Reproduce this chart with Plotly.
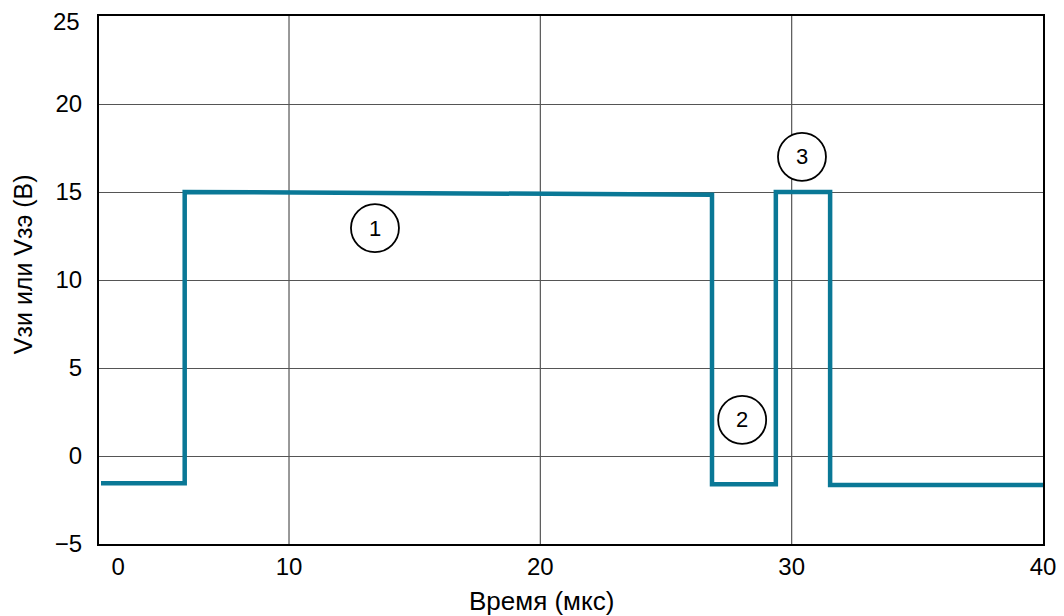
import plotly.graph_objects as go

# Data
time_us = [2.52, 5.85, 5.85, 26.83, 26.83, 29.37, 29.37, 31.53, 31.53, 40.0]
voltage = [-1.55, -1.55, 15.0, 14.85, -1.6, -1.6, 15.0, 15.0, -1.65, -1.65]

x_tick_vals = [3.2, 10, 20, 30, 40]
x_tick_text = ["0", "10", "20", "30", "40"]
x_grid = [10, 20, 30]
y_tick_vals = [-5, 0, 5, 10, 15, 20, 25]
y_tick_text = ["\u22125", "0", "5", "10", "15", "20", "25"]

marker_labels = ["1", "2", "3"]
marker_x = [13.42, 28.03, 30.41]
marker_y = [12.95, 2.05, 17.0]

x_title = "Время (мкс)"
y_title = "Vзи или Vзэ (В)"

FONT = "Liberation Sans, Arial, sans-serif"
LINE_COLOR = "#0a7896"

fig = go.Figure()
fig.add_trace(go.Scatter(
    x=time_us, y=voltage, mode="lines",
    line=dict(color=LINE_COLOR, width=4.5),
    hoverinfo="skip", showlegend=False,
))

shapes = []
for gx in x_grid:
    shapes.append(dict(type="line", xref="x", yref="paper", x0=gx, x1=gx, y0=0, y1=1,
                       line=dict(color="#555555", width=1.2), layer="below"))
for lab, mx, my in zip(marker_labels, marker_x, marker_y):
    shapes.append(dict(type="circle", xref="x", yref="y", xsizemode="pixel", ysizemode="pixel",
                       xanchor=mx, yanchor=my, x0=-24, x1=24, y0=-24, y1=24,
                       fillcolor="white", line=dict(color="black", width=1.8), layer="above"))

annotations = []
for lab, mx, my in zip(marker_labels, marker_x, marker_y):
    annotations.append(dict(x=mx, y=my, xref="x", yref="y", text=lab, showarrow=False,
                            font=dict(family=FONT, size=22, color="black")))
# axis titles
annotations.append(dict(x=-0.0805, y=0.53, xref="paper", yref="paper", text=y_title,
                        textangle=-90, showarrow=False, xanchor="center", yanchor="middle",
                        font=dict(family=FONT, size=25, color="black")))
annotations.append(dict(x=0.469, y=-0.108, xref="paper", yref="paper", text=x_title,
                        showarrow=False, xanchor="center", yanchor="middle",
                        font=dict(family=FONT, size=26, color="black")))
# top y tick label drawn slightly below the top edge (as in the reference)
y_tick_text_axis = y_tick_text[:-1] + [""]
annotations.append(dict(x=-0.018, y=0.9905, xref="paper", yref="paper", text=y_tick_text[-1],
                        showarrow=False, xanchor="right", yanchor="middle",
                        font=dict(family=FONT, size=24, color="black")))

fig.update_layout(
    width=1048, height=608,
    margin=dict(l=91, r=13, t=8, b=72, autoexpand=False),
    paper_bgcolor="white", plot_bgcolor="white",
    font=dict(family=FONT, color="black"),
    shapes=shapes, annotations=annotations,
    xaxis=dict(
        range=[2.44, 40], tickmode="array", tickvals=x_tick_vals, ticktext=x_tick_text,
        showgrid=False, zeroline=False, showline=True, linecolor="black", linewidth=2.2,
        mirror=True, ticks="", ticklabelstandoff=0, automargin=False,
        ticklabeloverflow="allow",
        tickfont=dict(family=FONT, size=24, color="black"),
    ),
    yaxis=dict(
        range=[-5, 25], tickmode="array", tickvals=y_tick_vals, ticktext=y_tick_text_axis,
        showgrid=True, gridcolor="#555555", gridwidth=1.2, zeroline=False,
        showline=True, linecolor="black", linewidth=2.2, mirror=True, ticks="",
        ticklabelstandoff=10, automargin=False, ticklabeloverflow="allow",
        tickfont=dict(family=FONT, size=24, color="black"),
    ),
)

fig.write_html("out.html")
